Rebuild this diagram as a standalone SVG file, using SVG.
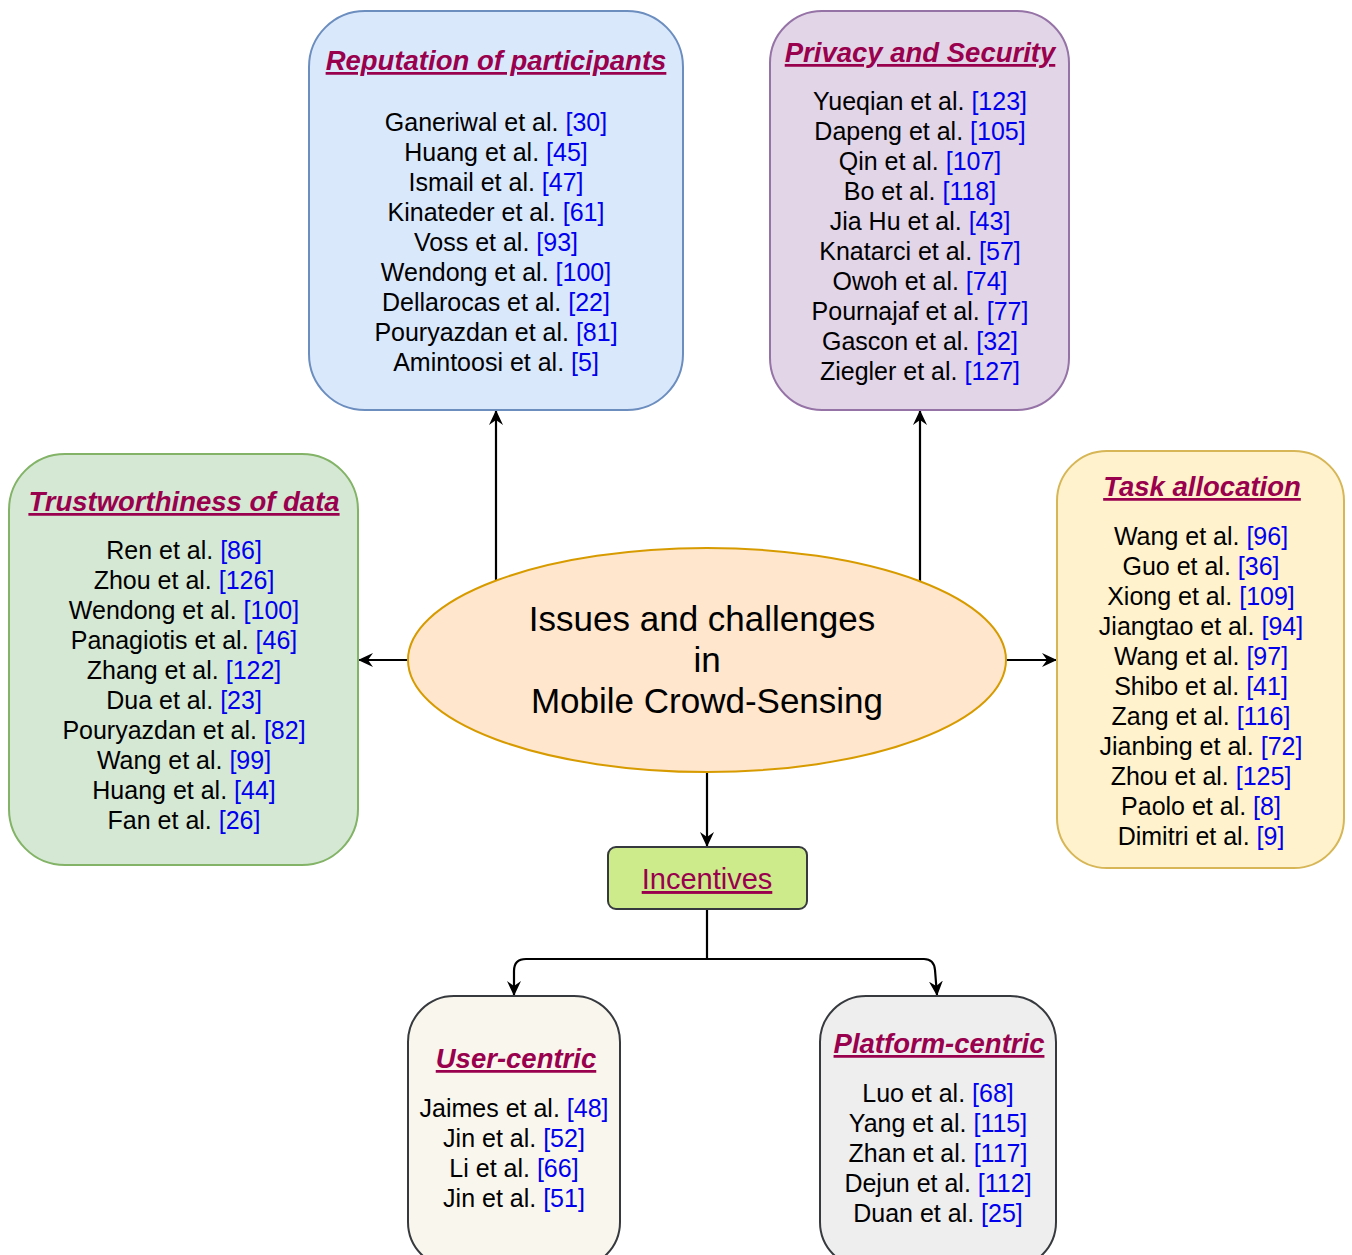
<svg xmlns="http://www.w3.org/2000/svg" width="1352" height="1255" viewBox="0 0 1352 1255">
<defs>
<style>
.box{stroke-width:2}
.t{font-family:"Liberation Sans",Arial,sans-serif;font-size:25px;fill:#000;text-anchor:middle}
.h{font-family:"Liberation Sans",Arial,sans-serif;font-size:27.5px;font-weight:bold;font-style:italic;fill:#99004d;text-anchor:middle;text-decoration:underline}
.r{fill:#0000ee}
.c{fill:none;stroke:#000;stroke-width:2.2}
</style>
<marker id="arr" viewBox="0 0 15 14" refX="14" refY="7" markerWidth="15" markerHeight="14" markerUnits="userSpaceOnUse" orient="auto">
<path d="M0,0 L15,7 L0,14 L5,7 z" fill="#000"/>
</marker>
</defs>
<rect width="1352" height="1255" fill="#fff"/>
<g id="connectors">
<path class="c" d="M496,581 L496,411" marker-end="url(#arr)"/>
<path class="c" d="M920,581 L920,411" marker-end="url(#arr)"/>
<path class="c" d="M408,660 L359,660" marker-end="url(#arr)"/>
<path class="c" d="M1006,660 L1056,660" marker-end="url(#arr)"/>
<path class="c" d="M707,772 L707,846" marker-end="url(#arr)"/>
<path class="c" d="M707,909 L707,959 L526,959 Q514,959 514,971 L514,995" marker-end="url(#arr)"/>
<path class="c" d="M707,959 L924,959 Q934,959 935,970 L937,995" marker-end="url(#arr)"/>
</g>
<g id="reputation">
<rect class="box" x="309" y="11" width="374" height="399" rx="56" fill="#dae8fc" stroke="#6c8ebf"/>
<text class="h" x="496" y="70">Reputation of participants</text>
<text class="t" x="496" y="131"><tspan x="496">Ganeriwal et al. <tspan class="r">[30]</tspan></tspan><tspan x="496" dy="30">Huang et al. <tspan class="r">[45]</tspan></tspan><tspan x="496" dy="30">Ismail et al. <tspan class="r">[47]</tspan></tspan><tspan x="496" dy="30">Kinateder et al. <tspan class="r">[61]</tspan></tspan><tspan x="496" dy="30">Voss et al. <tspan class="r">[93]</tspan></tspan><tspan x="496" dy="30">Wendong et al. <tspan class="r">[100]</tspan></tspan><tspan x="496" dy="30">Dellarocas et al. <tspan class="r">[22]</tspan></tspan><tspan x="496" dy="30">Pouryazdan et al. <tspan class="r">[81]</tspan></tspan><tspan x="496" dy="30">Amintoosi et al. <tspan class="r">[5]</tspan></tspan></text>
</g>
<g id="privacy">
<rect class="box" x="770" y="11" width="299" height="399" rx="52" fill="#e1d5e7" stroke="#9673a6"/>
<text class="h" x="920" y="62">Privacy and Security</text>
<text class="t" x="920" y="110"><tspan x="920">Yueqian et al. <tspan class="r">[123]</tspan></tspan><tspan x="920" dy="30">Dapeng et al. <tspan class="r">[105]</tspan></tspan><tspan x="920" dy="30">Qin et al. <tspan class="r">[107]</tspan></tspan><tspan x="920" dy="30">Bo et al. <tspan class="r">[118]</tspan></tspan><tspan x="920" dy="30">Jia Hu et al. <tspan class="r">[43]</tspan></tspan><tspan x="920" dy="30">Knatarci et al. <tspan class="r">[57]</tspan></tspan><tspan x="920" dy="30">Owoh et al. <tspan class="r">[74]</tspan></tspan><tspan x="920" dy="30">Pournajaf et al. <tspan class="r">[77]</tspan></tspan><tspan x="920" dy="30">Gascon et al. <tspan class="r">[32]</tspan></tspan><tspan x="920" dy="30">Ziegler et al. <tspan class="r">[127]</tspan></tspan></text>
</g>
<g id="trustworthiness">
<rect class="box" x="9" y="454" width="349" height="411" rx="56" fill="#d5e8d4" stroke="#82b366"/>
<text class="h" x="184" y="511">Trustworthiness of data</text>
<text class="t" x="184" y="559"><tspan x="184">Ren et al. <tspan class="r">[86]</tspan></tspan><tspan x="184" dy="30">Zhou et al. <tspan class="r">[126]</tspan></tspan><tspan x="184" dy="30">Wendong et al. <tspan class="r">[100]</tspan></tspan><tspan x="184" dy="30">Panagiotis et al. <tspan class="r">[46]</tspan></tspan><tspan x="184" dy="30">Zhang et al. <tspan class="r">[122]</tspan></tspan><tspan x="184" dy="30">Dua et al. <tspan class="r">[23]</tspan></tspan><tspan x="184" dy="30">Pouryazdan et al. <tspan class="r">[82]</tspan></tspan><tspan x="184" dy="30">Wang et al. <tspan class="r">[99]</tspan></tspan><tspan x="184" dy="30">Huang et al. <tspan class="r">[44]</tspan></tspan><tspan x="184" dy="30">Fan et al. <tspan class="r">[26]</tspan></tspan></text>
</g>
<g id="task">
<rect class="box" x="1057" y="451" width="287" height="417" rx="50" fill="#fff2cc" stroke="#d6b656"/>
<text class="h" x="1202" y="496">Task allocation</text>
<text class="t" x="1201" y="545"><tspan x="1201">Wang et al. <tspan class="r">[96]</tspan></tspan><tspan x="1201" dy="30">Guo et al. <tspan class="r">[36]</tspan></tspan><tspan x="1201" dy="30">Xiong et al. <tspan class="r">[109]</tspan></tspan><tspan x="1201" dy="30">Jiangtao et al. <tspan class="r">[94]</tspan></tspan><tspan x="1201" dy="30">Wang et al. <tspan class="r">[97]</tspan></tspan><tspan x="1201" dy="30">Shibo et al. <tspan class="r">[41]</tspan></tspan><tspan x="1201" dy="30">Zang et al. <tspan class="r">[116]</tspan></tspan><tspan x="1201" dy="30">Jianbing et al. <tspan class="r">[72]</tspan></tspan><tspan x="1201" dy="30">Zhou et al. <tspan class="r">[125]</tspan></tspan><tspan x="1201" dy="30">Paolo et al. <tspan class="r">[8]</tspan></tspan><tspan x="1201" dy="30">Dimitri et al. <tspan class="r">[9]</tspan></tspan></text>
</g>
<g id="center">
<ellipse cx="707" cy="660" rx="299" ry="112" fill="#ffe6cc" stroke="#d79b00" stroke-width="2"/>
<text class="t" x="702" y="631" style="font-size:35px"><tspan x="702">Issues and challenges</tspan><tspan x="707" dy="41">in</tspan><tspan x="707" dy="41">Mobile Crowd-Sensing</tspan></text>
</g>
<g id="incentives">
<rect class="box" x="608" y="847" width="199" height="62" rx="8" fill="#cdeb8b" stroke="#36393d"/>
<text class="t" x="707" y="889" style="font-size:29px;fill:#99004d;text-decoration:underline">Incentives</text>
</g>
<g id="user-centric">
<rect class="box" x="408" y="996" width="212" height="272" rx="46" fill="#f9f7ed" stroke="#36393d"/>
<text class="h" x="516" y="1068">User-centric</text>
<text class="t" x="514" y="1117"><tspan x="514">Jaimes et al. <tspan class="r">[48]</tspan></tspan><tspan x="514" dy="30">Jin et al. <tspan class="r">[52]</tspan></tspan><tspan x="514" dy="30">Li et al. <tspan class="r">[66]</tspan></tspan><tspan x="514" dy="30">Jin et al. <tspan class="r">[51]</tspan></tspan></text>
</g>
<g id="platform-centric">
<rect class="box" x="820" y="996" width="236" height="272" rx="46" fill="#eeeeee" stroke="#36393d"/>
<text class="h" x="939" y="1053">Platform-centric</text>
<text class="t" x="938" y="1102"><tspan x="938">Luo et al. <tspan class="r">[68]</tspan></tspan><tspan x="938" dy="30">Yang et al. <tspan class="r">[115]</tspan></tspan><tspan x="938" dy="30">Zhan et al. <tspan class="r">[117]</tspan></tspan><tspan x="938" dy="30">Dejun et al. <tspan class="r">[112]</tspan></tspan><tspan x="938" dy="30">Duan et al. <tspan class="r">[25]</tspan></tspan></text>
</g>
</svg>
